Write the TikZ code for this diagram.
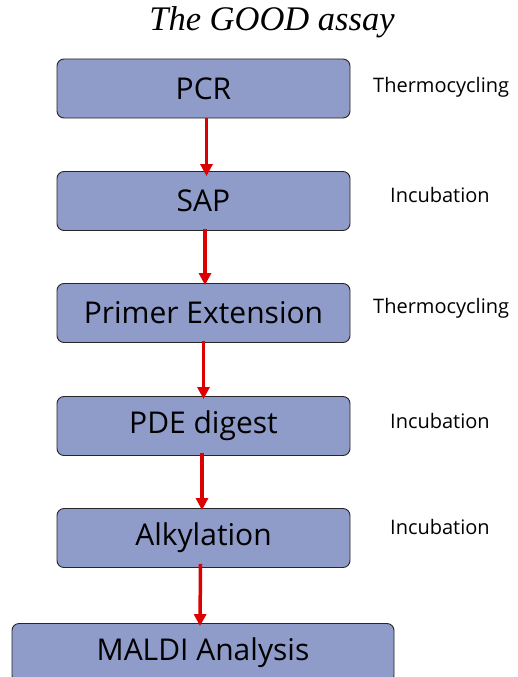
\documentclass[tikz,border=0pt]{standalone}
\usepackage{fontspec}
\setmainfont{Open Sans}
\newfontfamily\titlefont{Liberation Serif}
\usetikzlibrary{arrows.meta}
\definecolor{boxfill}{HTML}{8F9BC8}
\definecolor{arrowred}{HTML}{DD0000}
\begin{document}
\begin{tikzpicture}[x=1pt,y=-1pt,
  stepbox/.style={draw=black!85,line width=0.9pt,fill=boxfill,rounded corners=7pt,
    minimum width=293pt,minimum height=59pt,inner sep=0pt,font=\fontsize{30}{33}\selectfont},
  sidelabel/.style={anchor=west,inner sep=0pt,font=\fontsize{20}{23}\selectfont},
  flow/.style={draw=arrowred,line width=3.5pt,-{Triangle[length=12pt,width=12pt]}}]
\useasboundingbox (0,0) rectangle (518,677);
\fill[white] (0,0) rectangle (518,677);
% title
\node (title) at (272,22) {\titlefont\itshape\fontsize{34.5}{37}\selectfont The GOOD assay};
% process steps
\node[stepbox] (pcr)    at (203.5,88.5)  {PCR};
\node[stepbox] (sap)    at (203.5,201)   {SAP};
\node[stepbox] (primer) at (203.5,313)   {Primer Extension};
\node[stepbox] (pde)    at (203.5,426)   {PDE digest};
\node[stepbox] (alk)    at (203.5,538)   {Alkylation};
\node[stepbox,minimum width=382pt] (maldi) at (203,653) {MALDI Analysis};
% conditions beside the steps
\node[sidelabel] (l1) at (373,87)  {Thermocycling};
\node[sidelabel] (l2) at (390,195) {Incubation};
\node[sidelabel] (l3) at (373,308) {Thermocycling};
\node[sidelabel] (l4) at (390,421) {Incubation};
\node[sidelabel] (l5) at (390,527) {Incubation};
% flow arrows
\draw[flow] ([xshift=3pt]pcr.south)    -- ([xshift=3pt,yshift=-5pt]sap.north);
\draw[flow] ([xshift=1.5pt,yshift=2pt]sap.south)  -- ([xshift=1.5pt,yshift=-2pt]primer.north);
\draw[flow] ([xshift=0pt,yshift=2pt]primer.south) -- ([xshift=0pt,yshift=-3pt]pde.north);
\draw[flow] ([xshift=-1.5pt,yshift=3pt]pde.south)  -- ([xshift=-1.5pt,yshift=-2pt]alk.north);
\draw[flow] ([xshift=-3pt,yshift=4pt]alk.south)    -- ([xshift=-3pt,yshift=-3pt]maldi.north);
\end{tikzpicture}
\end{document}
